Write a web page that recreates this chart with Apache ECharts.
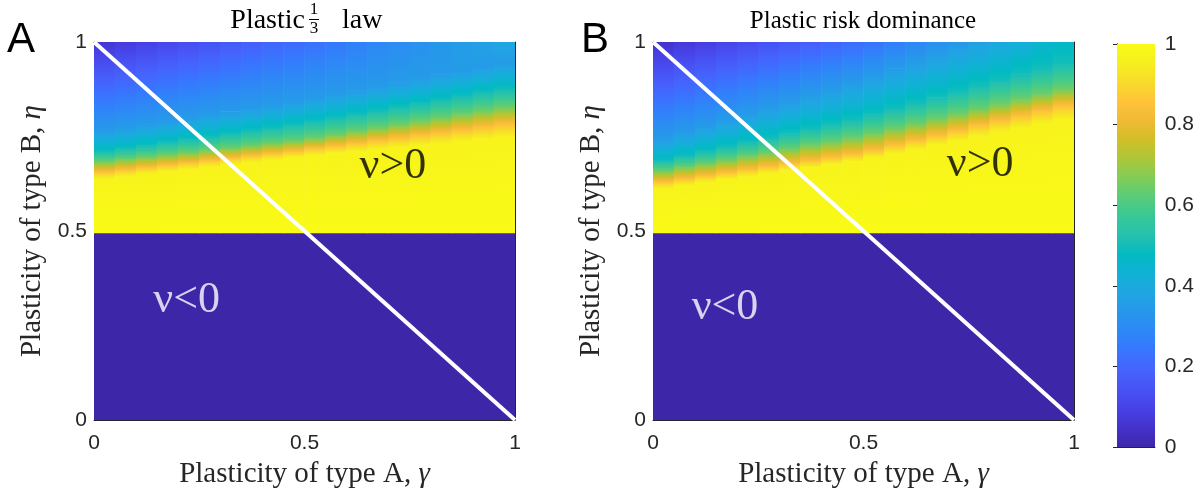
<!DOCTYPE html>
<html><head><meta charset="utf-8">
<script src="https://cdn.jsdelivr.net/npm/echarts@6/dist/echarts.min.js"></script>
<style>html,body{margin:0;padding:0;background:#fff}#c{width:1197px;height:495px}</style>
</head><body><div id="c"></div>
<script>
// ---------- data ----------
// gamma column edges (20 columns)
const gammaEdges = [0, 0.05, 0.1, 0.15, 0.2, 0.25, 0.3, 0.35, 0.4, 0.45, 0.5,
                    0.55, 0.6, 0.65, 0.7, 0.75, 0.8, 0.85, 0.9, 0.95, 1.0];
const etaSplit = 0.495;      // below: fraction 0 (nu < 0); above: colour field
const lowValue = 0;
const fullValue = 1;         // solid yellow just above etaSplit
// contour levels, and for each column the eta where the field crosses that level
const contourLevels = [0.97, 0.85, 0.65, 0.5, 0.35];
// Panel A: Plastic 1/3 law
const lvl97A = [.638,.644,.651,.657,.663,.669,.675,.682,.688,.694,.700,.705,.710,.716,.721,.726,.731,.737,.742,.747];
const lvl85A = [.656,.662,.668,.674,.680,.687,.693,.699,.705,.711,.718,.725,.732,.739,.746,.753,.760,.767,.774,.781];
const lvl65A = [.683,.689,.695,.701,.707,.713,.719,.725,.731,.737,.745,.754,.763,.772,.781,.790,.799,.808,.817,.826];
const lvl50A = [.710,.718,.726,.734,.742,.749,.757,.765,.773,.781,.790,.799,.809,.818,.828,.837,.847,.856,.866,.875];
const lvl35A = [.764,.773,.782,.790,.799,.807,.816,.825,.833,.842,.851,.862,.872,.882,.893,.903,.914,.924,.934,.945];
const topA   = [.059,.076,.093,.110,.127,.144,.161,.178,.195,.212,.229,.247,.265,.283,.301,.319,.337,.355,.373,.391];
// Panel B: Plastic risk dominance
const lvl97B = [.612,.620,.628,.636,.644,.652,.660,.668,.676,.684,.694,.705,.716,.727,.738,.750,.761,.772,.783,.794];
const lvl85B = [.630,.638,.646,.654,.662,.670,.678,.686,.694,.702,.713,.726,.739,.752,.765,.779,.792,.805,.818,.831];
const lvl65B = [.658,.668,.677,.687,.697,.706,.716,.726,.735,.745,.757,.770,.783,.796,.809,.822,.835,.848,.861,.874];
const lvl50B = [.686,.698,.710,.722,.734,.746,.758,.770,.782,.794,.808,.823,.838,.853,.868,.884,.899,.914,.929,.944];
const lvl35B = [.743,.760,.776,.793,.809,.826,.842,.859,.875,.892,.910,.930,.950,.970,.990,null,null,null,null,null];
const topB   = [.049,.067,.085,.103,.121,.139,.157,.175,.193,.211,.233,.259,.285,.311,.337,.363,.389,.415,.441,.467];

const diagLine = [[0, 1], [1, 0]];          // white line gamma + eta = 1
const panelTicks = [0, 0.5, 1];
const colorbarRange = [0, 1];
const titleB = 'Plastic risk dominance';
const xName = 'Plasticity of type A, {i|γ}';
const yName = 'Plasticity of type B, {i|η}';

// ---------- styling ----------
const parula = ['#3e26a8','#4432cb','#4741e5','#4852f4','#4563fd','#3875fe','#2e87f7','#2796eb',
  '#20a5e3','#12b1d6','#02bac3','#24c1ae','#37c897','#57cc7a','#81cc59','#abc739','#d1bf27',
  '#f0ba36','#fec338','#f7dc2a','#f6ef20','#f9fb15'];
const AX = '#262626';
const tickFont = {fontFamily: 'Liberation Sans', fontSize: 21, color: AX};
const serif = 'Liberation Serif';

function hex(c) { return [1, 3, 5].map(k => parseInt(c.substr(k, 2), 16)); }
const parulaRGB = parula.map(hex);
function cmap(v) {
  v = Math.max(0, Math.min(1, v));
  const p = v * (parulaRGB.length - 1), i = Math.min(Math.floor(p), parulaRGB.length - 2), t = p - i;
  const a = parulaRGB[i], b = parulaRGB[i + 1];
  return 'rgb(' + a.map((x, k) => Math.round(x + (b[k] - x) * t)).join(',') + ')';
}
function gradientStops(v0, v1) {
  const stops = [{offset: 0, color: cmap(v0)}];
  if (v1 !== v0) {
    const lo = Math.min(v0, v1), hi = Math.max(v0, v1), n = parula.length - 1;
    for (let k = 0; k <= n; k++) {
      const node = k / n;
      if (node > lo && node < hi) stops.push({offset: (node - v0) / (v1 - v0), color: parula[k]});
    }
  }
  stops.push({offset: 1, color: cmap(v1)});
  stops.sort((a, b) => a.offset - b.offset);
  return stops;
}
// build segments [g0, g1, eta0, eta1, v0, v1] for one panel
function segments(levelArrays, top) {
  const out = [[0, 1, 0, etaSplit, lowValue, lowValue]];
  for (let i = 0; i < top.length; i++) {
    const etas = [etaSplit], vals = [fullValue];
    levelArrays.forEach((arr, k) => { if (arr[i] != null) { etas.push(arr[i]); vals.push(contourLevels[k]); } });
    etas.push(1); vals.push(top[i]);
    for (let s = 0; s < etas.length - 1; s++)
      out.push([gammaEdges[i], gammaEdges[i + 1], etas[s], etas[s + 1], vals[s], vals[s + 1]]);
  }
  return out;
}
function renderSeg(params, api) {
  const p0 = api.coord([api.value(0), api.value(3)]);
  const p1 = api.coord([api.value(1), api.value(2)]);
  const v0 = api.value(4), v1 = api.value(5);
  const fill = new echarts.graphic.LinearGradient(0, 1, 0, 0, gradientStops(v0, v1));
  return {type: 'rect',
    shape: {x: p0[0] - 0.3, y: p0[1] - 0.3, width: p1[0] - p0[0] + 0.6, height: p1[1] - p0[1] + 0.6},
    style: {fill: fill}};
}
const nameStyle = {fontFamily: serif, fontSize: 29, color: AX,
  rich: {i: {fontFamily: serif, fontSize: 29, fontStyle: 'italic', color: AX}}};

function xAx(grid, pos, labels) {
  return {type: 'value', gridIndex: grid, position: pos, min: 0, max: 1, interval: 0.5,
    axisLine: {show: true, onZero: false, lineStyle: {color: AX, width: 1}},
    axisTick: {show: true, inside: true, length: 5, lineStyle: {color: AX}},
    axisLabel: Object.assign({show: labels, margin: 13, formatter: v => String(v)}, tickFont),
    splitLine: {show: false},
    name: labels ? xName : '', nameLocation: 'middle', nameGap: 40, nameTextStyle: nameStyle};
}
function yAx(grid, pos, labels) {
  return {type: 'value', gridIndex: grid, position: pos, min: 0, max: 1, interval: 0.5,
    axisLine: {show: true, onZero: false, lineStyle: {color: AX, width: 1}},
    axisTick: {show: true, inside: true, length: 5, lineStyle: {color: AX}},
    axisLabel: Object.assign({show: labels, margin: 7, formatter: v => String(v)}, tickFont),
    splitLine: {show: false},
    name: labels ? yName : '', nameLocation: 'middle', nameGap: 47, nameTextStyle: nameStyle};
}
function hiddenAx(grid, pos, extra) {
  return Object.assign({type: 'value', gridIndex: grid, position: pos, min: 0, max: 1,
    axisLine: {show: true, lineStyle: {color: AX}}, axisTick: {show: false},
    axisLabel: {show: false}, splitLine: {show: false}}, extra || {});
}

const chart = echarts.init(document.getElementById('c'), null, {renderer: 'canvas'});
const option = {
  animation: false,
  backgroundColor: '#fff',
  grid: [
    {left: 94, top: 42, width: 421, height: 378},
    {left: 653, top: 42, width: 421, height: 378},
    {left: 1117, top: 44, width: 40, height: 403}
  ],
  xAxis: [
    xAx(0, 'bottom', true), xAx(0, 'top', false),
    xAx(1, 'bottom', true), xAx(1, 'top', false),
    hiddenAx(2, 'bottom'), hiddenAx(2, 'top')
  ],
  yAxis: [
    yAx(0, 'left', true), yAx(0, 'right', false),
    yAx(1, 'left', true), yAx(1, 'right', false),
    hiddenAx(2, 'right', {interval: 0.2,
      axisTick: {show: true, inside: true, length: 4, lineStyle: {color: AX}},
      axisLabel: Object.assign({show: true, margin: 10, formatter: v => String(+v.toFixed(1))}, tickFont)}),
    hiddenAx(2, 'left')
  ],
  graphic: [
    {type: 'text', x: 7, y: 40, style: {text: 'A', fontFamily: 'Liberation Sans', fontSize: 42, fill: '#000', verticalAlign: 'middle'}},
    {type: 'text', x: 581, y: 40, style: {text: 'B', fontFamily: 'Liberation Sans', fontSize: 42, fill: '#000', verticalAlign: 'middle'}},
    {type: 'text', x: 305, y: 21, style: {text: 'Plastic', fontFamily: serif, fontSize: 28, fill: '#000', align: 'right', verticalAlign: 'middle'}},
    {type: 'text', x: 314, y: 10, style: {text: '1', fontFamily: serif, fontSize: 17, fill: '#000', align: 'center', verticalAlign: 'middle'}},
    {type: 'line', shape: {x1: 309, y1: 19.5, x2: 319, y2: 19.5}, style: {stroke: '#000', lineWidth: 1}},
    {type: 'text', x: 314, y: 29, style: {text: '3', fontFamily: serif, fontSize: 17, fill: '#000', align: 'center', verticalAlign: 'middle'}},
    {type: 'text', x: 342, y: 21, style: {text: 'law', fontFamily: serif, fontSize: 28, fill: '#000', align: 'left', verticalAlign: 'middle'}},
    {type: 'text', x: 863, y: 21, style: {text: titleB, fontFamily: serif, fontSize: 25, fill: '#000', align: 'center', verticalAlign: 'middle'}}
  ],
  series: [
    {type: 'custom', xAxisIndex: 0, yAxisIndex: 0, renderItem: renderSeg, clip: true,
      encode: {x: [0, 1], y: [2, 3]}, silent: true,
      data: segments([lvl97A, lvl85A, lvl65A, lvl50A, lvl35A], topA)},
    {type: 'custom', xAxisIndex: 2, yAxisIndex: 2, renderItem: renderSeg, clip: true,
      encode: {x: [0, 1], y: [2, 3]}, silent: true,
      data: segments([lvl97B, lvl85B, lvl65B, lvl50B, lvl35B], topB)},
    {type: 'custom', xAxisIndex: 4, yAxisIndex: 4, renderItem: renderSeg, clip: true,
      encode: {x: [0, 1], y: [2, 3]}, silent: true,
      data: [[0, 1, colorbarRange[0], colorbarRange[1], colorbarRange[0], colorbarRange[1]]]},
    {type: 'line', xAxisIndex: 0, yAxisIndex: 0, data: diagLine, symbol: 'none', z: 5,
      lineStyle: {color: '#fff', width: 4}, silent: true},
    {type: 'line', xAxisIndex: 2, yAxisIndex: 2, data: diagLine, symbol: 'none', z: 5,
      lineStyle: {color: '#fff', width: 4}, silent: true},
    {type: 'scatter', xAxisIndex: 0, yAxisIndex: 0, symbolSize: 0, z: 6, silent: true,
      data: [{name: 'ν>0', value: [0.71, 0.67], label: {color: '#000'}},
             {name: 'ν<0', value: [0.22, 0.317], label: {color: '#fff'}}],
      label: {show: true, position: 'inside', formatter: p => p.name, fontFamily: serif, fontSize: 44}},
    {type: 'scatter', xAxisIndex: 2, yAxisIndex: 2, symbolSize: 0, z: 6, silent: true,
      data: [{name: 'ν>0', value: [0.777, 0.675], label: {color: '#000'}},
             {name: 'ν<0', value: [0.171, 0.299], label: {color: '#fff'}}],
      label: {show: true, position: 'inside', formatter: p => p.name, fontFamily: serif, fontSize: 44}}
  ]
};
chart.setOption(option);
</script></body></html>
